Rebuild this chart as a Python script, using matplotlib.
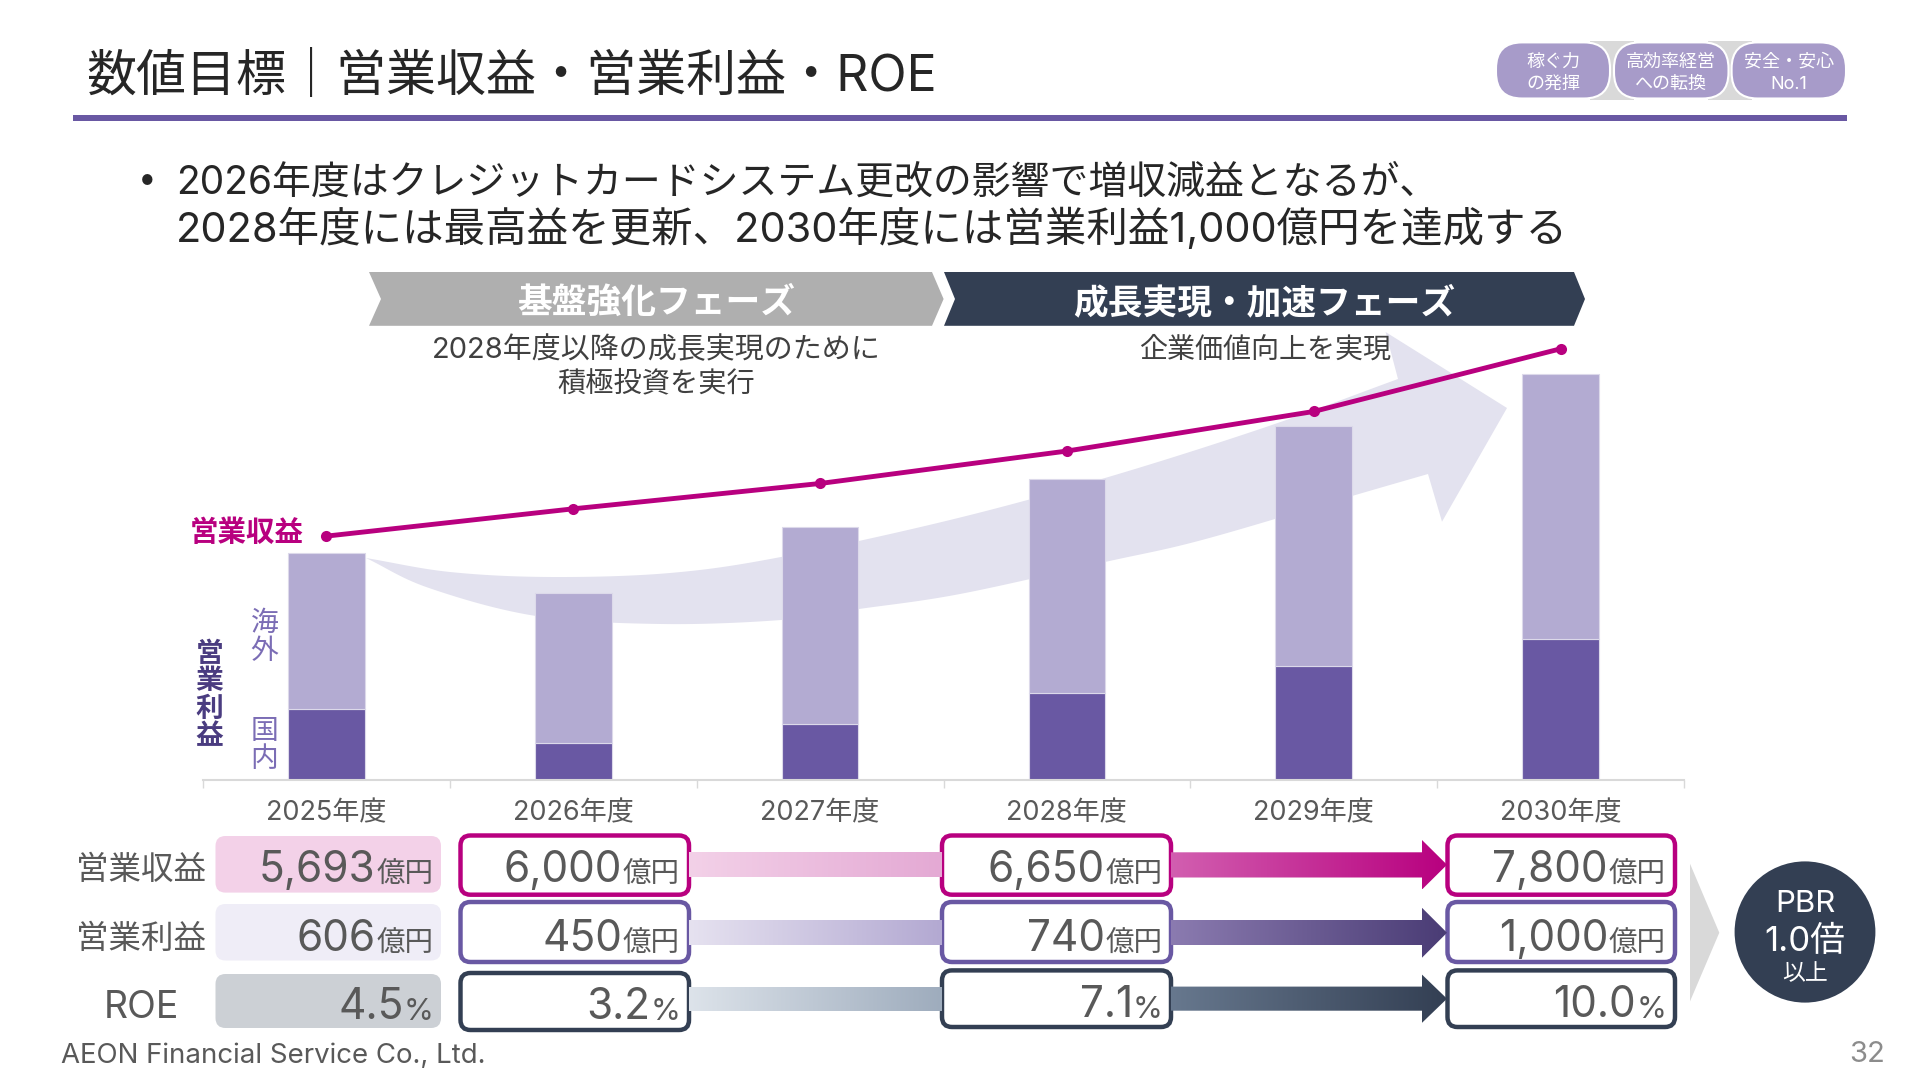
import numpy as np
import matplotlib
matplotlib.use("Agg")
import matplotlib.pyplot as plt
from matplotlib.patches import FancyBboxPatch, Polygon, Ellipse, Rectangle

FONT = ['Inter', 'Noto Sans CJK JP', 'DejaVu Sans']
plt.rcParams['font.family'] = FONT

# ---------- data ----------
years = ['2025年度', '2026年度', '2027年度', '2028年度', '2029年度', '2030年度']
domestic = [174, 91, 137, 213, 280, 347]
overseas = [384, 370, 485, 527, 590, 653]
revenue = [5693, 6000, 6285, 6650, 7095, 7800]

row_names = ['営業収益', '営業利益', 'ROE']
vals_2025 = ['5,693', '606', '4.5']
vals_2026 = ['6,000', '450', '3.2']
vals_2028 = ['6,650', '740', '7.1']
vals_2030 = ['7,800', '1,000', '10.0']
units = ['億円', '億円', '%']

DARK = '#333f53'
MAG = '#b8007f'
PUR = '#6958a3'
LPUR = '#b3abd2'
TXT = '#595959'

fig = plt.figure(figsize=(19.2, 10.8), dpi=100, facecolor='white')


def overlay(z):
    a = fig.add_axes([0, 0, 1, 1], zorder=z)
    a.set_xlim(0, 1920)
    a.set_ylim(1080, 0)
    a.axis('off')
    return a


bg = overlay(0)
fg = overlay(3)


def smooth(pts, n=14):
    p = np.array(pts, float)
    p = np.vstack([2 * p[0] - p[1], p, 2 * p[-1] - p[-2]])
    out = []
    for i in range(1, len(p) - 2):
        for t in np.linspace(0, 1, n, endpoint=False):
            out.append(0.5 * ((2 * p[i]) + (-p[i - 1] + p[i + 1]) * t +
                              (2 * p[i - 1] - 5 * p[i] + 4 * p[i + 1] - p[i + 2]) * t * t +
                              (-p[i - 1] + 3 * p[i] - 3 * p[i + 1] + p[i + 2]) * t ** 3))
    out.append(p[-2])
    return np.array(out)


# big background arrow
upper = smooth([(366, 558), (450, 572), (551, 577), (670, 573), (781, 557), (950, 520),
                (1105, 478), (1266, 427), (1398, 379)])
lower = smooth([(1428, 474), (1352, 496), (1202, 540), (1105, 562), (960, 594), (859, 609),
                (781, 620), (661, 624), (536, 616), (429, 588), (366, 558)])
head = np.array([(1385.6, 332), (1507, 408), (1442, 521.7)])
bg.add_patch(Polygon(np.vstack([upper, head, lower]), closed=True, fc='#e3e2ef', ec='none'))

# ---------- chart ----------
L, R, B, T = 203, 1684, 780, 300
ax = fig.add_axes([L / 1920, 1 - B / 1080, (R - L) / 1920, (B - T) / 1080], zorder=1)
ax.patch.set_visible(False)
x = np.arange(6) + 0.5
ax.bar(x, domestic, width=0.31, color=PUR, edgecolor='#dcd9ea', linewidth=0.8)
ax.bar(x, overseas, bottom=domestic, width=0.31, color=LPUR, edgecolor='#dcd9ea', linewidth=0.8)
ax.set_xlim(0, 6)
ax.set_ylim(0, (B - T) / 0.4065)
ax.set_yticks([])
for s in ['top', 'left', 'right']:
    ax.spines[s].set_visible(False)
ax.spines['bottom'].set_color('#d9d9d9')
ax.spines['bottom'].set_linewidth(1.5)
ax.set_xticks(x)
ax.set_xticklabels(years, fontsize=19.5, color=TXT)
ax.tick_params(axis='x', which='major', length=0, pad=15)
ax.set_xticks(np.arange(7), minor=True)
ax.tick_params(axis='x', which='minor', length=5.5, width=1, color='#d9d9d9')

ax2 = ax.twinx()
ax2.set_zorder(2)
ax2.patch.set_visible(False)
ax2.plot(x, revenue, color=MAG, lw=3.5, marker='o', ms=8, mew=0)
ax2.set_ylim(7800 - (B - 348.8) / 0.0889, 7800 + (348.8 - T) / 0.0889)
ax2.axis('off')


def tx(x0, y0, s, size, color=TXT, ha='center', va='center', **kw):
    kw.setdefault('family', FONT)
    return fg.text(x0, y0, s, fontsize=size, color=color, ha=ha, va=va, **kw)


# ---------- header ----------
tx(86, 76, '数値目標｜営業収益・営業利益・ROE', 36, '#262626', ha='left')
fg.add_patch(Rectangle((73, 115), 1774, 6, fc=PUR, ec='none'))

# pills
for gx in (1590, 1708):
    fg.add_patch(Rectangle((gx, 40.6), 44, 59.5, fc='#d9d9d9', ec='none'))
pills = [(1496, 1610, '稼ぐ力\nの発揮'), (1614, 1728.5, '高効率経営\nへの転換'), (1731.6, 1846, '安全・安心\nNo.1')]
for a, b, s in pills:
    fg.add_patch(FancyBboxPatch((a, 42.4), b - a, 56.1, boxstyle='round,pad=0,rounding_size=26',
                                fc='#a79bc9', ec='white', lw=1.5))
    tx((a + b) / 2, 73, s, 13, 'white', linespacing=1.4, ma='center')

# bullets
tx(147, 181, '•', 24, '#262626')
tx(176, 183, '2026年度はクレジットカードシステム更改の影響で増収減益となるが、', 28, '#262626', ha='left')
tx(176, 229, '2028年度には最高益を更新、2030年度には営業利益1,000億円を達成する', 29.85, '#262626', ha='left')

# phase chevrons
fg.add_patch(Polygon([(369, 272), (932, 272), (943.6, 299), (932, 325.8), (369, 325.8), (381, 299)],
                     fc='#afafaf', ec='none'))
fg.add_patch(Polygon([(944, 272), (1574, 272), (1585, 299), (1574, 325.8), (944, 325.8), (955, 299)],
                     fc=DARK, ec='none'))
tx(656, 303.5, '基盤強化フェーズ', 25, 'white', fontweight='bold')
tx(1264, 303.5, '成長実現・加速フェーズ', 25, 'white', fontweight='bold')
tx(656, 350.5, '2028年度以降の成長実現のために', 20.9, '#404040')
tx(656, 384, '積極投資を実行', 20.3, '#404040')
tx(1264.6, 350.5, '企業価値向上を実現', 20.2, '#404040')

# chart side labels
tx(247, 533, '営業収益', 20.5, MAG, fontweight='bold')
tx(209.5, 696, '営\n業\n利\n益', 20, '#4a3c80', fontweight='bold', linespacing=1.08)
tx(264.5, 638, '海\n外', 20, '#7b6db5', linespacing=1.08)
tx(264.5, 746, '国\n内', 20, '#7b6db5', linespacing=1.08)

# ---------- table ----------
label_y = [871, 939, 1008]
base_y = [882, 951, 1019]
base_y_right = [882, 951, 1017]
box_2025 = [(836, 892.6), (904, 960.5), (974, 1028)]
fills = ['#f3d1e8', '#efedf7', '#ccd0d5']
box_rows = [(835.5, 894.7), (902, 962), (973, 1030)]
box_rows_r = [(835.5, 894.7), (902, 962), (970.4, 1027)]
edge = [MAG, PUR, DARK]
label_size = [23.4, 23.4, 27]


def value(xr, y, num, unit):
    uw = 55 if unit == '億円' else 27
    tx(xr + 2, y + 1, unit, 20.5 if unit == '億円' else 22, TXT, ha='right', va='baseline')
    tx(xr - uw - 1, y, num, 30.5, TXT, ha='right', va='baseline')


def rbox(a, b, y0, y1, ec):
    fg.add_patch(FancyBboxPatch((a, y0), b - a, y1 - y0, boxstyle='round,pad=0,rounding_size=10',
                                fc='white', ec=ec, lw=3.2))


for i in range(3):
    tx(141, label_y[i], row_names[i], label_size[i], TXT)
    fg.add_patch(FancyBboxPatch((215.5, box_2025[i][0]), 225.5, box_2025[i][1] - box_2025[i][0],
                                boxstyle='round,pad=0,rounding_size=10', fc=fills[i], ec='none'))
    value(431.7, base_y[i], vals_2025[i], units[i])
    rbox(460.5, 689, *box_rows[i], edge[i])
    value(678, base_y[i], vals_2026[i], units[i])
    rbox(942, 1171, *box_rows_r[i], edge[i])
    value(1161, base_y_right[i], vals_2028[i], units[i])
    rbox(1447.5, 1675, *box_rows_r[i], edge[i])
    value(1664, base_y_right[i], vals_2030[i], units[i])


def gradient_patch(poly, x0, x1, c0, c1):
    p = Polygon(poly, closed=True, fc='none', ec='none')
    fg.add_patch(p)
    c0 = np.array(matplotlib.colors.to_rgb(c0))
    c1 = np.array(matplotlib.colors.to_rgb(c1))
    t = np.linspace(0, 1, 256)[None, :, None]
    img = c0[None, None, :] * (1 - t) + c1[None, None, :] * t
    ys = [q[1] for q in poly]
    im = fg.imshow(img, extent=(x0, x1, max(ys), min(ys)), aspect='auto', zorder=1.5, interpolation='bilinear')
    im.set_clip_path(p)
    fg.set_xlim(0, 1920)
    fg.set_ylim(1080, 0)


shafts = [(852.3, 877.5), (920, 945), (986.6, 1010.7)]
heads = [(840, 889.5), (907.8, 957.7), (974.6, 1022.8)]
left_cols = [('#f3d1e8', '#e4a9d4'), ('#e6e2f0', '#b3a9d2'), ('#dde3ea', '#9eacbd')]
right_cols = [('#d25fb0', '#b8007f'), ('#8b7bb0', '#4a3c75'), ('#67788e', '#333f53')]
for i in range(3):
    y0, y1 = shafts[i]
    gradient_patch([(689, y0), (942, y0), (942, y1), (689, y1)], 689, 942, *left_cols[i])
    h0, h1 = heads[i]
    m = (h0 + h1) / 2
    gradient_patch([(1171, y0), (1422, y0), (1422, h0), (1447, m), (1422, h1), (1422, y1), (1171, y1)],
                   1171, 1447, *right_cols[i])

# PBR
fg.add_patch(Polygon([(1690, 863.7), (1719.3, 932.7), (1690, 1001.4)], fc='#d9d9d9', ec='none'))
fg.add_patch(Ellipse((1805, 932), 140.8, 141.2, fc=DARK, ec='none'))
tx(1805, 904.5, 'PBR', 22.5, 'white')
tx(1805, 942, '1.0倍', 25, 'white')
tx(1805, 974, '以上', 16.5, 'white')

# footer
tx(61, 1056, 'AEON Financial Service Co., Ltd.', 19.9, TXT, ha='left')
tx(1885, 1054, '32', 21, '#8c8c8c', ha='right')

fig.savefig('out.png', dpi=100)
